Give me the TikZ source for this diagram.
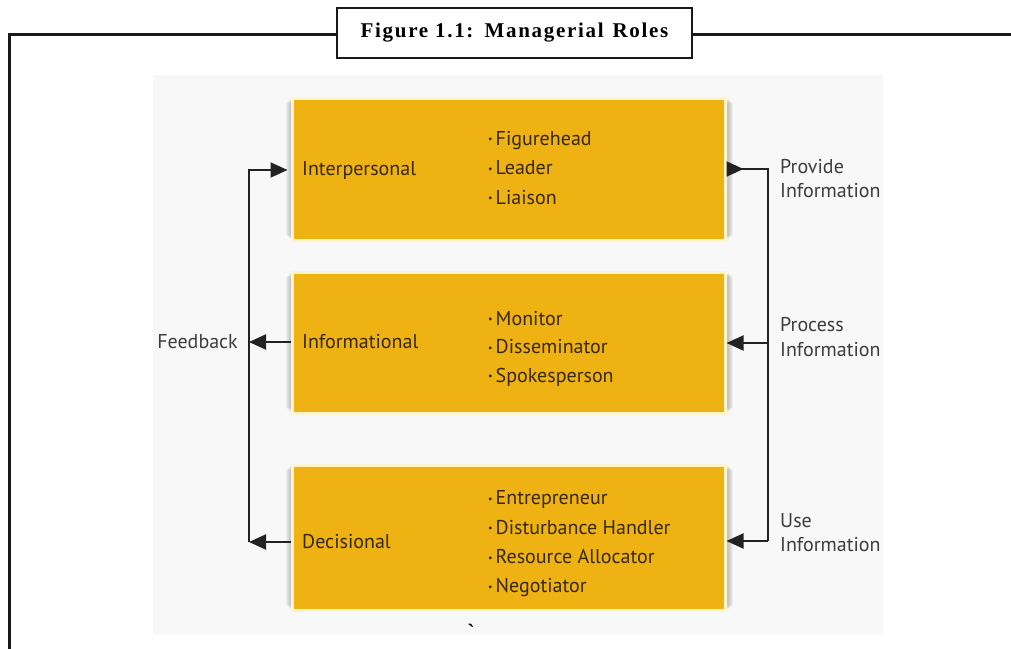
\documentclass[tikz,border=0pt]{standalone}
\usepackage{fontspec}
\setmainfont{PT Sans}
\newfontfamily\titlefont[LetterSpace=8]{Liberation Serif}
\newfontfamily\markfont{Liberation Serif}
\usetikzlibrary{arrows.meta,calc}
\definecolor{boxgold}{RGB}{238,178,18}
\definecolor{boxcream}{RGB}{255,245,205}
\definecolor{panelgray}{RGB}{248,248,248}
\definecolor{linedark}{RGB}{34,34,34}
\definecolor{txtdark}{RGB}{60,60,60}
\definecolor{boxtxt}{RGB}{55,40,10}
\tikzset{
  rolebox/.style={draw=boxcream, line width=3pt, fill=boxgold, minimum width=433pt, inner sep=0pt},
  rolename/.style={anchor=west, text=boxtxt, font=\fontsize{20}{22}\selectfont, inner sep=0pt},
  itemlist/.style={anchor=west, text=boxtxt, align=left, inner sep=0pt},
  sidelabel/.style={anchor=west, text=txtdark, align=left, inner sep=0pt, font=\fontsize{20}{24.5}\selectfont},
  conn/.style={draw=linedark, line width=2pt},
  arr/.style={conn, -{Triangle[length=17pt,width=15pt]}},
  rarr/.style={conn, {Triangle[length=17pt,width=15pt,reversed]}-},
  frame/.style={draw=black!90, line width=2.6pt},
}
\newcommand{\bul}{\raisebox{0.25ex}{\scalebox{0.5}{\textbullet}}\hspace{3pt}}
\newcommand{\shadowfor}[1]{%
  \foreach \e in {1,2,3,4,5} {
    \fill[black, opacity=0.045] ($(#1.north west)+(-\e pt,-\e pt-1pt)$) rectangle ($(#1.south east)+(\e pt+1pt,\e pt+2pt)$);
  }}
\begin{document}
\begin{tikzpicture}[x=1pt,y=-1pt]
\useasboundingbox (0,0) rectangle (1011,648);
\fill[white] (0,0) rectangle (1011,648);
% outer frame
\draw[frame] (9.5,650) -- (9.5,34.5) -- (1013,34.5);
% grey panel
\fill[panelgray] (153,75) rectangle (883,634);
% boxes (positions)
\path (508.5,169) node[rolebox, minimum height=142pt] (box1) {};
\path (508.5,342.5) node[rolebox, minimum height=141pt] (box2) {};
\path (508.5,537.5) node[rolebox, minimum height=145pt] (box3) {};
% shadows drawn then boxes redrawn on top
\shadowfor{box1}
\shadowfor{box2}
\shadowfor{box3}
\path (508.5,169) node[rolebox, minimum height=142pt] (box1) {};
\path (508.5,342.5) node[rolebox, minimum height=141pt] (box2) {};
\path (508.5,537.5) node[rolebox, minimum height=145pt] (box3) {};
% role names
\node[rolename] (n1) at (302,170) {Interpersonal};
\node[rolename] (n2) at (302,342) {Informational};
\node[rolename] (n3) at (302,542) {Decisional};
% item lists
\node[itemlist, font=\fontsize{20}{29.5}\selectfont] (i1) at (488,168) {\bul Figurehead\\\bul Leader\\\bul Liaison};
\node[itemlist, font=\fontsize{20}{28.5}\selectfont] (i2) at (488,348.5) {\bul Monitor\\\bul Disseminator\\\bul Spokesperson};
\node[itemlist, font=\fontsize{20}{29.3}\selectfont] (i3) at (488,544) {\bul Entrepreneur\\\bul Disturbance Handler\\\bul Resource Allocator\\\bul Negotiator};
% side labels
\node[sidelabel, anchor=east] (fb) at (238,342) {Feedback};
\node[sidelabel] (pi) at (780,178.5) {Provide\\Information};
\node[sidelabel] (pr) at (780,337) {Process\\Information};
\node[sidelabel] (ui) at (780,532.5) {Use\\Information};
% connector corners
\coordinate (L1) at (249,170);
\coordinate (L2) at (249,342);
\coordinate (L3) at (249,542);
\coordinate (R1) at (768,169);
\coordinate (R2) at (768,343);
\coordinate (R3) at (768,541);
% left connectors
\draw[arr, shorten >=3pt] (L3) -- (L1) -- (box1.west |- L1);
\draw[arr] (box2.west |- L2) -- (L2);
\draw[arr] (box3.west |- L3) -- (L3);
% right connectors
\draw[rarr] (box1.east |- R1) -- (R1) -- (R3);
\draw[arr] (R2) -- (box2.east |- R2);
\draw[arr] (R3) -- (box3.east |- R3);
% title box
\node[frame, fill=white, minimum width=355pt, minimum height=50pt, inner sep=0pt,
      font=\titlefont\bfseries\fontsize{21}{23}\selectfont] (title) at (514.5,33) {Figure 1.1:\hspace{2pt} Managerial\hspace{2pt} Roles};
% stray mark
\node[inner sep=0pt, anchor=north, font=\markfont\bfseries\fontsize{22}{22}\selectfont] (mark) at (471,624) {\textasciigrave};
\end{tikzpicture}
\end{document}
